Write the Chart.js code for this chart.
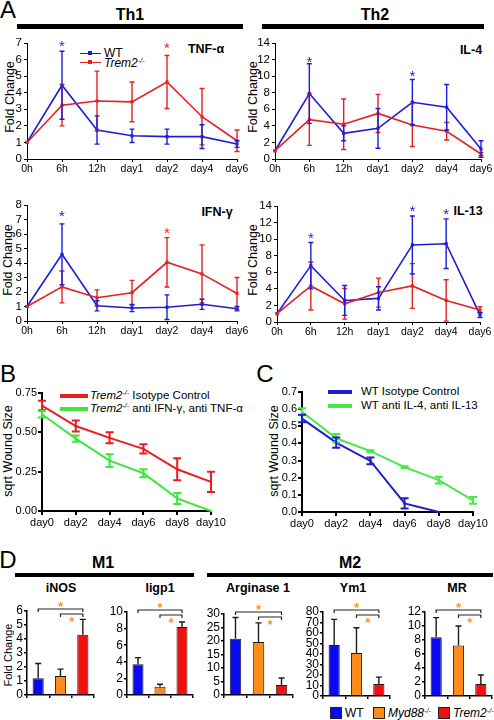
<!DOCTYPE html>
<html><head><meta charset="utf-8">
<script src="https://cdn.jsdelivr.net/npm/chart.js@4.4.1/dist/chart.umd.min.js"></script>
<style>
html,body{margin:0;padding:0;background:#fff;}
#stage{position:relative;width:494px;height:720px;overflow:hidden;font-family:'Liberation Sans',Arial,Helvetica,sans-serif;color:#000;}
#stage canvas{position:absolute;}
.t{position:absolute;white-space:nowrap;line-height:1;transform:translate(-50%,-50%);}
.l{position:absolute;white-space:nowrap;line-height:1;transform:translateY(-50%);}
.v{position:absolute;white-space:nowrap;line-height:1;transform:translate(-50%,-50%) rotate(-90deg);}
.bar{position:absolute;background:#000;}
.sup{font-size:0.62em;vertical-align:0.55em;}
.b{font-weight:bold;}
.sq{position:absolute;width:10px;height:10px;border:1px solid #222;}
</style></head><body><div id="stage">
<!-- Panel A -->
<div class="t" style="left:8px;top:10px;font-size:24px">A</div>
<div class="t b" style="left:130px;top:15px;font-size:16px">Th1</div>
<div class="t b" style="left:375px;top:15px;font-size:16px">Th2</div>
<div class="bar" style="left:17px;top:24px;width:226px;height:5px"></div>
<div class="bar" style="left:262px;top:24px;width:222px;height:5px"></div>
<div class="t b" style="left:206px;top:49px;font-size:12.5px">TNF-α</div>
<div class="t b" style="left:471px;top:50px;font-size:12.5px">IL-4</div>
<div class="t b" style="left:217px;top:212px;font-size:12.5px">IFN-γ</div>
<div class="t b" style="left:468px;top:211px;font-size:12.5px">IL-13</div>
<div class="v" style="left:10px;top:97px;font-size:12.5px">Fold Change</div>
<div class="v" style="left:253px;top:97px;font-size:12.5px">Fold Change</div>
<div class="v" style="left:8px;top:260px;font-size:12.5px">Fold Change</div>
<div class="v" style="left:253px;top:260px;font-size:12.5px">Fold Change</div>
<div style="position:absolute;left:80px;top:52.5px;width:21px;height:1.6px;background:#1c1cdc"></div>
<div style="position:absolute;left:88px;top:51.3px;width:4px;height:4px;background:#1c1cdc"></div>
<div class="l" style="left:104px;top:53px;font-size:12px">WT</div>
<div style="position:absolute;left:80px;top:61.5px;width:21px;height:1.6px;background:#e52020"></div>
<div style="position:absolute;left:88px;top:60.3px;width:4px;height:4px;background:#e52020"></div>
<div class="l" style="left:104px;top:62.5px;font-size:12px"><i>Trem2<span class="sup">-/-</span></i></div>
<!-- Panel B -->
<div class="t" style="left:8px;top:374px;font-size:24px">B</div>
<div class="v" style="left:8px;top:451px;font-size:12.5px">sqrt Wound Size</div>
<div style="position:absolute;left:60px;top:394px;width:28px;height:4px;background:#ec1c24"></div>
<div style="position:absolute;left:60px;top:407px;width:28px;height:4px;background:#3ee63e"></div>
<div class="l" style="left:90px;top:396px;font-size:11.5px"><i>Trem2<span class="sup">-/-</span></i> Isotype Control</div>
<div class="l" style="left:90px;top:409px;font-size:11.5px"><i>Trem2<span class="sup">-/-</span></i> anti IFN-γ, anti TNF-α</div>
<!-- Panel C -->
<div class="t" style="left:265px;top:374px;font-size:24px">C</div>
<div class="v" style="left:274px;top:451px;font-size:12.5px">sqrt Wound Size</div>
<div style="position:absolute;left:328px;top:390px;width:24px;height:4px;background:#1e1ecc"></div>
<div style="position:absolute;left:328px;top:404px;width:24px;height:4px;background:#48e848"></div>
<div class="l" style="left:361px;top:392px;font-size:11.5px">WT Isotype Control</div>
<div class="l" style="left:361px;top:406px;font-size:11.5px">WT anti IL-4, anti IL-13</div>
<!-- Panel D -->
<div class="t" style="left:8px;top:560px;font-size:24px">D</div>
<div class="t b" style="left:103px;top:563px;font-size:16px">M1</div>
<div class="t b" style="left:350px;top:563px;font-size:16px">M2</div>
<div class="bar" style="left:15px;top:573px;width:179px;height:4px"></div>
<div class="bar" style="left:207px;top:573px;width:286px;height:4px"></div>
<div class="t b" style="left:61px;top:588px;font-size:12.5px">iNOS</div>
<div class="t b" style="left:160px;top:588px;font-size:12.5px">Iigp1</div>
<div class="t b" style="left:258px;top:588px;font-size:12.5px">Arginase 1</div>
<div class="t b" style="left:353px;top:588px;font-size:12.5px">Ym1</div>
<div class="t b" style="left:457px;top:588px;font-size:12.5px">MR</div>
<div class="v" style="left:8px;top:655px;font-size:11px">Fold Change</div>
<div class="sq" style="left:330px;top:707px;background:#0a0af0"></div>
<div class="l" style="left:345px;top:713px;font-size:12px">WT</div>
<div class="sq" style="left:373px;top:707px;background:#ff8c1a"></div>
<div class="l" style="left:388px;top:713px;font-size:12px"><i>Myd88<span class="sup">-/-</span></i></div>
<div class="sq" style="left:438px;top:707px;background:#f01010"></div>
<div class="l" style="left:453px;top:713px;font-size:12px"><i>Trem2<span class="sup">-/-</span></i></div>
</div>
<script>
// ---------------- DATA ----------------
const timeLabels = ['0h', '6h', '12h', 'day1', 'day2', 'day4', 'day6'];

const tnfWT = [1, 4.45, 1.75, 1.4, 1.35, 1.35, 0.9];
const tnfWTErr = [0, 2.05, 0.85, 0.4, 0.45, 0.72, 0.2];
const tnfKO = [1, 3.25, 3.5, 3.45, 4.65, 2.55, 1.1];
const tnfKOErr = [0, 1.25, 1.8, 1.2, 1.6, 1.7, 0.65];
const tnfStars = [[1, 7.06, 'WT'], [4, 6.94, 'KO']];
const tnfTicks = [0, 1, 2, 3, 4, 5, 6, 7];

const il4WT = [1, 7.9, 3.1, 3.7, 6.85, 6.25, 1.2];
const il4WTErr = [0, 3.6, 0.9, 2.4, 2.75, 2.75, 1.0];
const il4KO = [1, 4.75, 4.2, 5.5, 4.1, 3.35, 0.6];
const il4KOErr = [0, 3.1, 3.05, 2.3, 2.6, 1.05, 0.2];
const il4Stars = [[1, 12.15, 'WT'], [4, 10.5, 'WT']];
const il4Ticks = [0, 2, 4, 6, 8, 10, 12, 14];

const ifnWT = [1, 4.6, 1.05, 0.9, 0.95, 1.15, 0.85];
const ifnWTErr = [0, 2.1, 0.35, 0.25, 0.85, 0.35, 0.15];
const ifnKO = [1, 2.35, 1.6, 1.95, 4.05, 3.25, 1.9];
const ifnKOErr = [0, 1.1, 0.55, 0.85, 1.7, 2.0, 1.1];
const ifnStars = [[1, 7.5, 'WT'], [4, 6.3, 'KO']];
const ifnTicks = [0, 1, 2, 3, 4, 5, 6, 7, 8];

const il13WT = [1, 6.8, 2.6, 2.85, 9.3, 9.45, 0.85];
const il13WTErr = [0, 2.8, 1.8, 1.4, 3.5, 3.0, 0.3];
const il13KO = [1, 4.35, 2.2, 3.55, 4.35, 2.6, 1.45];
const il13KOErr = [0, 2.9, 1.85, 1.75, 2.7, 2.5, 0.4];
const il13Stars = [[1, 10.6, 'WT'], [4, 13.8, 'WT'], [5, 13.5, 'WT']];
const il13Ticks = [0, 2, 4, 6, 8, 10, 12, 14];

const dayLabels = ['day0', 'day2', 'day4', 'day6', 'day8', 'day10'];
const bIsotype = [0.67, 0.54, 0.465, 0.395, 0.265, 0.185];
const bIsotypeErr = [0.03, 0.035, 0.035, 0.03, 0.07, 0.065];
const bAnti = [0.615, 0.46, 0.32, 0.24, 0.08, 0.0];
const bAntiErr = [0.02, 0.02, 0.04, 0.025, 0.035, 0];
const bTickValues = [0, 0.25, 0.5, 0.75];
const bTickLabels = ['0.00', '0.25', '0.50', '0.75'];

const cIsotype = [0.545, 0.405, 0.298, 0.05, 0.0, null];
const cIsotypeErr = [0.022, 0.03, 0.02, 0.03, 0, 0];
const cAnti = [0.585, 0.43, 0.355, 0.262, 0.186, 0.068];
const cAntiErr = [0.02, 0.025, 0.005, 0.005, 0.02, 0.02];
const cTickValues = [0, 0.1, 0.2, 0.3, 0.4, 0.5, 0.6, 0.7];
const cTickLabels = ['0.0', '0.1', '0.2', '0.3', '0.4', '0.5', '0.6', '0.7'];

const genotypes = ['WT', 'Myd88-/-', 'Trem2-/-'];
const inosVals = [1.2, 1.35, 4.3];
const inosErr = [1.05, 0.5, 1.1];
const inosTicks = [0, 1, 2, 3, 4, 5, 6];
const iigpVals = [3.7, 1.0, 8.2];
const iigpErr = [0.8, 0.3, 0.6];
const iigpTicks = [0, 2, 4, 6, 8, 10];
const argVals = [20.8, 19.6, 3.7];
const argErr = [7.9, 7.1, 2.6];
const argTicks = [0, 5, 10, 15, 20, 25, 30];
const ym1Vals = [48.5, 41, 11.5];
const ym1Err = [24.5, 24, 6.5];
const ym1Ticks = [0, 10, 20, 30, 40, 50, 60, 70, 80];
const mrVals = [8.4, 7.2, 1.7];
const mrErr = [2.8, 2.8, 1.3];
const mrTicks = [0, 2, 4, 6, 8, 10, 12];

// ---------------- STYLE ----------------
const FONT = "'Liberation Sans', Arial, Helvetica, sans-serif";
Chart.defaults.font.family = FONT;
Chart.defaults.color = '#000';
const BLUE = '#1c1cdc', RED = '#e52020';
const B_RED = '#ec1c24', B_GREEN = '#3ee63e', C_BLUE = '#1e1ecc', C_GREEN = '#48e848';
const D_BLUE = '#0a0af0', D_ORANGE = '#ff8c1a', D_RED = '#f01010', STAR_OR = '#f7941d';

// ---------------- PLUGINS ----------------
const ERR = {
  id: 'errbars',
  afterDatasetsDraw(chart) {
    const ctx = chart.ctx, ys = chart.scales.y;
    chart.data.datasets.forEach((ds, i) => {
      const errs = ds.errors; if (!errs) return;
      const meta = chart.getDatasetMeta(i);
      ctx.save();
      ctx.strokeStyle = ds.errorColor || ds.borderColor;
      ctx.lineWidth = ds.errorWidth || 1.5;
      const cap = ds.errorCap || 3;
      meta.data.forEach((el, j) => {
        const v = ds.data[j], e = errs[j];
        if (v == null || !e) return;
        const x = el.x;
        const yHi = ys.getPixelForValue(v + e);
        const yLo = ds.errorUpOnly ? ys.getPixelForValue(v) : ys.getPixelForValue(Math.max(v - e, ys.min));
        ctx.beginPath();
        ctx.moveTo(x, yLo); ctx.lineTo(x, yHi);
        ctx.moveTo(x - cap, yHi); ctx.lineTo(x + cap, yHi);
        if (!ds.errorUpOnly) { ctx.moveTo(x - cap, yLo); ctx.lineTo(x + cap, yLo); }
        ctx.stroke();
      });
      ctx.restore();
    });
  }
};

const STARS = {
  id: 'stars',
  afterDraw(chart, args, opts) {
    if (!opts || !opts.list) return;
    const ctx = chart.ctx, xs = chart.scales.x, ys = chart.scales.y;
    const size = opts.size || 14;
    ctx.save();
    ctx.font = size + 'px ' + FONT;
    ctx.textAlign = 'center'; ctx.textBaseline = 'alphabetic';
    opts.list.forEach(s => {
      ctx.fillStyle = s[2] === 'WT' ? BLUE : RED;
      ctx.fillText('*', xs.getPixelForValue(s[0]), ys.getPixelForValue(s[1]) + 0.57 * size);
    });
    ctx.restore();
  }
};

const BRACKETS = {
  id: 'brackets',
  afterDraw(chart) {
    const ctx = chart.ctx, xs = chart.scales.x, top = chart.chartArea.top;
    const x0 = xs.getPixelForValue(0), x1 = xs.getPixelForValue(1), x2 = xs.getPixelForValue(2);
    const y1 = top - 2, y2 = top + 3;
    ctx.save();
    ctx.strokeStyle = '#222'; ctx.lineWidth = 1.2;
    ctx.beginPath();
    ctx.moveTo(x0, y1 + 3); ctx.lineTo(x0, y1); ctx.lineTo(x2, y1); ctx.lineTo(x2, y1 + 3);
    ctx.moveTo(x1, y2 + 3); ctx.lineTo(x1, y2); ctx.lineTo(x2, y2); ctx.lineTo(x2, y2 + 3);
    ctx.stroke();
    const size = 13;
    ctx.font = 'bold ' + size + 'px ' + FONT;
    ctx.fillStyle = STAR_OR; ctx.textAlign = 'center'; ctx.textBaseline = 'alphabetic';
    ctx.fillText('*', (x0 + x2) / 2, top - 7 + 0.57 * size);
    ctx.fillText('*', (x1 + x2) / 2, top + 8 + 0.57 * size);
    ctx.restore();
  }
};

// ---------------- HELPERS ----------------
const stage = document.getElementById('stage');
function place(x0, x1, yTop, yBot, m) {
  const c = document.createElement('canvas');
  const w = (x1 - x0) + m.l + m.r, h = (yBot - yTop) + m.t + m.b;
  c.width = w; c.height = h;
  c.style.left = (x0 - m.l) + 'px'; c.style.top = (yTop - m.t) + 'px';
  c.style.width = w + 'px'; c.style.height = h + 'px';
  stage.appendChild(c);
  return c;
}
function xFit(h) { return s => { s.height = h; s.paddingLeft = 0; s.paddingRight = 0; }; }
function yFit(w) { return s => { s.width = w; s.paddingTop = 0; s.paddingBottom = 0; }; }
function base(m) {
  return {
    responsive: false, animation: false, devicePixelRatio: 1, events: [],
    layout: { padding: { left: 0, top: m.t, right: m.r, bottom: 0 } },
  };
}

function lineA(x0, x1, yTop, yBot, wt, wtErr, ko, koErr, ticks, stars) {
  const m = { l: 24, r: 14, t: 12, b: 17 };
  const c = place(x0, x1, yTop, yBot, m);
  const ds = (d, e, col) => ({ data: d, errors: e, borderColor: col, backgroundColor: col, borderWidth: 1.6,
    pointStyle: 'rect', pointRadius: 2.2, pointBorderWidth: 0, tension: 0, clip: false, errorWidth: 1.4, errorCap: 2.5 });
  new Chart(c, {
    type: 'line',
    data: { labels: timeLabels, datasets: [ds(ko, koErr, RED), ds(wt, wtErr, BLUE)] },
    options: Object.assign(base(m), {
      scales: {
        x: { offset: false, afterFit: xFit(m.b),
          grid: { drawOnChartArea: false, tickLength: 3, color: '#000', lineWidth: 1 },
          border: { color: '#000', width: 1 },
          ticks: { font: { size: 10.5 }, padding: 1, maxRotation: 0, autoSkip: false } },
        y: { min: 0, max: ticks[ticks.length - 1], afterFit: yFit(m.l),
          afterBuildTicks: s => { s.ticks = ticks.map(v => ({ value: v })); },
          grid: { drawOnChartArea: false, tickLength: 3, color: '#000', lineWidth: 1 },
          border: { color: '#000', width: 1 },
          ticks: { font: { size: 11.5 }, padding: 2, autoSkip: false } }
      },
      plugins: { legend: { display: false }, tooltip: { enabled: false }, stars: { list: stars, size: 15 } }
    }),
    plugins: [ERR, STARS]
  });
}

function wound(x0, x1, yTop, yBot, tickVals, tickLabels, series) {
  const m = { l: 30, r: 16, t: 8, b: 19 };
  const c = place(x0, x1, yTop, yBot, m);
  new Chart(c, {
    type: 'line',
    data: { labels: dayLabels, datasets: series.map(s => ({ data: s[0], errors: s[1], borderColor: s[2], backgroundColor: s[2],
      borderWidth: 2, pointStyle: 'rect', pointRadius: 1.5, pointBorderWidth: 0, tension: 0, clip: false,
      errorWidth: 2, errorCap: 4 })) },
    options: Object.assign(base(m), {
      scales: {
        x: { offset: false, afterFit: xFit(m.b),
          grid: { drawOnChartArea: false, tickLength: 4, color: '#000', lineWidth: 2 },
          border: { color: '#000', width: 2 },
          ticks: { font: { size: 11 }, padding: 1, maxRotation: 0, autoSkip: false } },
        y: { min: 0, max: tickVals[tickVals.length - 1], afterFit: yFit(m.l),
          afterBuildTicks: s => { s.ticks = tickVals.map(v => ({ value: v })); },
          grid: { drawOnChartArea: false, tickLength: 4, color: '#000', lineWidth: 2 },
          border: { color: '#000', width: 2 },
          ticks: { font: { size: 11 }, padding: 1, autoSkip: false, callback: (v, i) => tickLabels[i] } }
      },
      plugins: { legend: { display: false }, tooltip: { enabled: false } }
    }),
    plugins: [ERR]
  });
}

function barD(x0, x1, yTop, yBot, vals, errs, ticks) {
  const m = { l: 24, r: 2, t: 16, b: 5 };
  const c = place(x0, x1, yTop, yBot, m);
  new Chart(c, {
    type: 'bar',
    data: { labels: genotypes, datasets: [{ data: vals, errors: errs, errorUpOnly: true, errorColor: '#1a1a1a',
      errorWidth: 1.4, errorCap: 3, backgroundColor: [D_BLUE, D_ORANGE, D_RED], borderColor: '#1a1a1a',
      borderWidth: 1, barPercentage: 0.5, categoryPercentage: 1 }] },
    options: Object.assign(base(m), {
      scales: {
        x: { offset: true, afterFit: xFit(m.b),
          grid: { offset: true, drawOnChartArea: false, tickLength: 3, color: '#000', lineWidth: 1.5 },
          border: { color: '#000', width: 1.5 },
          ticks: { display: false } },
        y: { min: 0, max: ticks[ticks.length - 1], afterFit: yFit(m.l),
          afterBuildTicks: s => { s.ticks = ticks.map(v => ({ value: v })); },
          grid: { drawOnChartArea: false, tickLength: 3, color: '#000', lineWidth: 1.5 },
          border: { color: '#000', width: 1.5 },
          ticks: { font: { size: 12 }, padding: 1, autoSkip: false } }
      },
      plugins: { legend: { display: false }, tooltip: { enabled: false } }
    }),
    plugins: [ERR, BRACKETS]
  });
}

// ---------------- CHARTS ----------------
lineA(27, 237, 43, 159, tnfWT, tnfWTErr, tnfKO, tnfKOErr, tnfTicks, tnfStars);
lineA(275, 481, 43, 159, il4WT, il4WTErr, il4KO, il4KOErr, il4Ticks, il4Stars);
lineA(27, 237, 205, 321, ifnWT, ifnWTErr, ifnKO, ifnKOErr, ifnTicks, ifnStars);
lineA(277, 480, 206, 322, il13WT, il13WTErr, il13KO, il13KOErr, il13Ticks, il13Stars);

wound(42, 211, 393, 511, bTickValues, bTickLabels, [[bIsotype, bIsotypeErr, B_RED], [bAnti, bAntiErr, B_GREEN]]);
wound(302, 473, 392, 512, cTickValues, cTickLabels, [[cAnti, cAntiErr, C_GREEN], [cIsotype, cIsotypeErr, C_BLUE]]);

barD(27, 94, 611, 695, inosVals, inosErr, inosTicks);
barD(127, 193, 612, 695, iigpVals, iigpErr, iigpTicks);
barD(224, 293, 614, 695, argVals, argErr, argTicks);
barD(323, 390, 612, 696, ym1Vals, ym1Err, ym1Ticks);
barD(425, 492, 612, 696, mrVals, mrErr, mrTicks);
</script>
</body></html>
